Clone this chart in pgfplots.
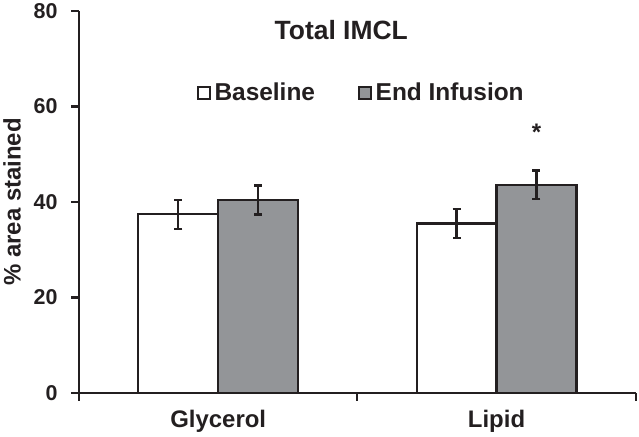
\documentclass[border=0pt]{standalone}
\usepackage{fontspec}
\setmainfont{Liberation Sans}
\usepackage{pgfplots}
\pgfplotsset{compat=1.18}

\definecolor{ink}{RGB}{35,31,32}
\definecolor{barGray}{RGB}{147,149,152}

\begin{document}
\begin{tikzpicture}
\begin{axis}[
    scale only axis,
    width=558pt,
    height=383pt,
    xmin=-0.5, xmax=1.5,
    ymin=0, ymax=80,
    axis lines*=left,
    axis line style={ink, line width=2.2pt},
    ytick={0,20,40,60,80},
    xtick={-0.5,0.5,1.5},
    xticklabels={},
    extra x ticks={0,1},
    extra x tick labels={Glycerol,Lipid},
    extra x tick style={major tick length=0pt, tick label style={font=\fontsize{24}{26}\selectfont\bfseries, text=ink, yshift=-14pt}},
    tick align=outside,
    major tick length=8pt,
    tick style={ink, line width=2.2pt},
    y tick label style={font=\fontsize{21.5}{24}\selectfont\bfseries, text=ink, xshift=-10pt},
    /pgf/number format/assume math mode=true,
    ylabel={\% area stained},
    ylabel style={font=\fontsize{24}{26}\selectfont\bfseries, text=ink, yshift=6pt},
    bar width=0.287,
    bar shift=0pt,
    legend style={at={(axis description cs:0.212,0.786)}, anchor=west, draw=none, fill=none,
        inner sep=0pt, font=\fontsize{24.5}{27}\selectfont\bfseries, text=ink,
        /tikz/every even column/.append style={column sep=40pt},
        nodes={inner sep=3.5pt}},
    legend columns=2,
    legend image code/.code={\draw[#1, line width=1.8pt] (0pt,-6pt) rectangle (12pt,6pt);},
]
\addplot[ybar, draw=ink, line width=2.2pt, fill=white,
    error bars/.cd, y dir=both, y explicit,
    error bar style={ink, line width=2.2pt},
    error mark options={rotate=90, mark size=4pt, line width=2.2pt, ink}]
    coordinates {(-0.1435,37.4) +- (0,3.0) (0.8565,35.5) +- (0,3.0)};
\addlegendentry{Baseline}
\addplot[ybar, draw=ink, line width=2.2pt, fill=barGray,
    error bars/.cd, y dir=both, y explicit,
    error bar style={ink, line width=2.2pt},
    error mark options={rotate=90, mark size=4pt, line width=2.2pt, ink}]
    coordinates {(0.1435,40.4) +- (0,3.05) (1.1435,43.6) +- (0,3.0)};
\addlegendentry{End Infusion}

\node[font=\fontsize{26.5}{28}\selectfont\bfseries, text=ink] at (axis description cs:0.471,0.95) {Total IMCL};
\node[font=\fontsize{24}{26}\selectfont\bfseries, text=ink] at (axis cs:1.1435,54.5) {*};
\end{axis}
\end{tikzpicture}
\end{document}
